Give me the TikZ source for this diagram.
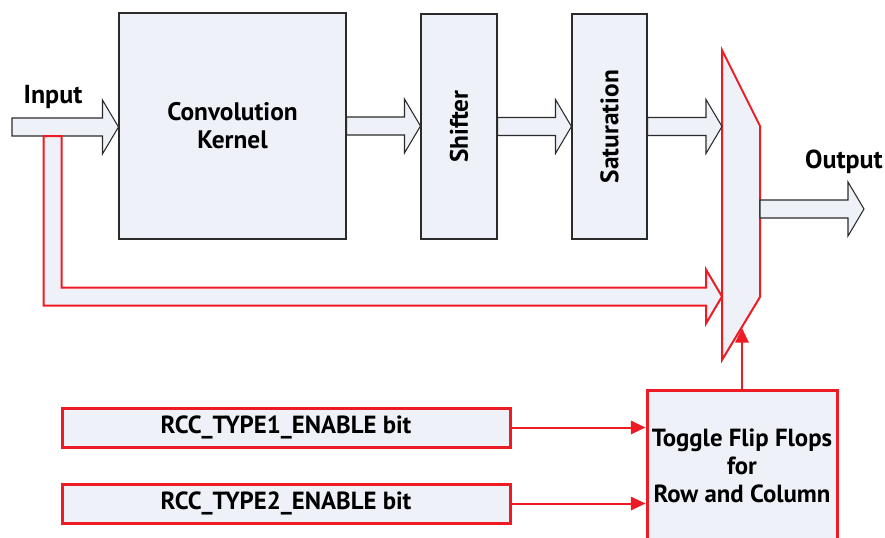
\documentclass[tikz,border=0pt]{standalone}
\usepackage{fontspec}
\setmainfont{PT Sans}
\usetikzlibrary{arrows.meta,calc}
\definecolor{rccred}{HTML}{ED1C24}
\definecolor{rccfill}{HTML}{EEF2F8}
\definecolor{rccline}{HTML}{2B2B2B}

% hollow block arrow between two points, horizontal at the first point's height
\newcommand{\fatarrow}[3]{%
  \draw[#1] let \p1=(#2), \p2=(#3) in
    (\x1,\y1+6.75pt) -- (\x2-12pt,\y1+6.75pt) -- (\x2-12pt,\y1+20.25pt) -- (\x2,\y1)
    -- (\x2-12pt,\y1-20.25pt) -- (\x2-12pt,\y1-6.75pt) -- (\x1,\y1-6.75pt) -- cycle;}

\begin{document}
\begin{tikzpicture}[x=0.75pt, y=-0.75pt,
  block/.style={draw=rccline, line width=0.8pt, fill=rccfill, inner sep=0pt, align=center, font=\bfseries\fontsize{19}{21}\selectfont},
  redbox/.style={draw=rccred, line width=2.25pt, fill=rccfill, inner sep=0pt, align=center, font=\bfseries\fontsize{18.6}{21}\selectfont},
  label/.style={font=\bfseries\fontsize{19.5}{21}\selectfont, inner sep=0pt},
  hollow/.style={draw=rccline, line width=0.8pt, fill=rccfill},
  redhollow/.style={draw=rccred, line width=1.5pt, fill=rccfill},
  redarrow/.style={-{Triangle[length=11pt,width=10pt]}, draw=rccred, fill=rccred, line width=1.5pt}
]
\useasboundingbox (0,0) rectangle (885,537);
\clip (0,0) rectangle (885,537);

% main data path
\node[block, minimum width=170.25pt, minimum height=169.5pt] (kernel) at (232.5,126) {Convolution\\Kernel};
\node[block, minimum width=57pt, minimum height=168.75pt] (shifter) at (459,126.5) {\rotatebox{90}{Shifter}};
\node[block, minimum width=56.25pt, minimum height=168.75pt] (saturation) at (609.5,126.5) {\rotatebox{90}{Saturation}};

% multiplexer
\draw[redhollow] (722,50) -- (760,126) -- (760,297) -- (722,360) -- cycle;
\coordinate (mux-a) at (722,127);
\coordinate (mux-b) at (722,296.5);
\coordinate (mux-out) at (760,209);
\coordinate (mux-sel) at (742,328);
\coordinate (out) at (864,209);
\coordinate (in) at (12,127);
\coordinate (tap) at (52.5,136);

\node[label] (inlabel) at (53,97) {Input};
\node[label] (outlabel) at (844,162) {Output};

\fatarrow{hollow}{in}{kernel.west}
\fatarrow{hollow}{kernel.east}{shifter.west}
\fatarrow{hollow}{shifter.east}{saturation.west}
\fatarrow{hollow}{saturation.east}{mux-a}
\fatarrow{hollow}{mux-out}{out}

% bypass bus
\draw[redhollow] let \p1=(tap), \p2=(mux-b) in
  (\x1-6.75pt,\y1) -- (\x1-6.75pt,\y2-6.75pt) -- (\x2-12pt,\y2-6.75pt) -- (\x2-12pt,\y2-20.25pt)
  -- (\x2,\y2) -- (\x2-12pt,\y2+20.25pt) -- (\x2-12pt,\y2+6.75pt) -- (\x1+6.75pt,\y2+6.75pt)
  -- (\x1+6.75pt,\y1) -- cycle;

% control
\node[redbox, minimum width=336pt, minimum height=29.25pt] (type1) at (286,427.5) {RCC\_TYPE1\_ENABLE bit};
\node[redbox, minimum width=336pt, minimum height=29.25pt] (type2) at (286,503.5) {RCC\_TYPE2\_ENABLE bit};
\node[redbox, minimum width=142.5pt, minimum height=114pt] (toggle) at (742,466) {Toggle Flip Flops\\for\\Row and Column};

\draw[redarrow] (type1.east) -- (type1.east -| toggle.west);
\draw[redarrow] (type2.east) -- (type2.east -| toggle.west);
\draw[redarrow] (toggle.north) -- (mux-sel);
\end{tikzpicture}
\end{document}
